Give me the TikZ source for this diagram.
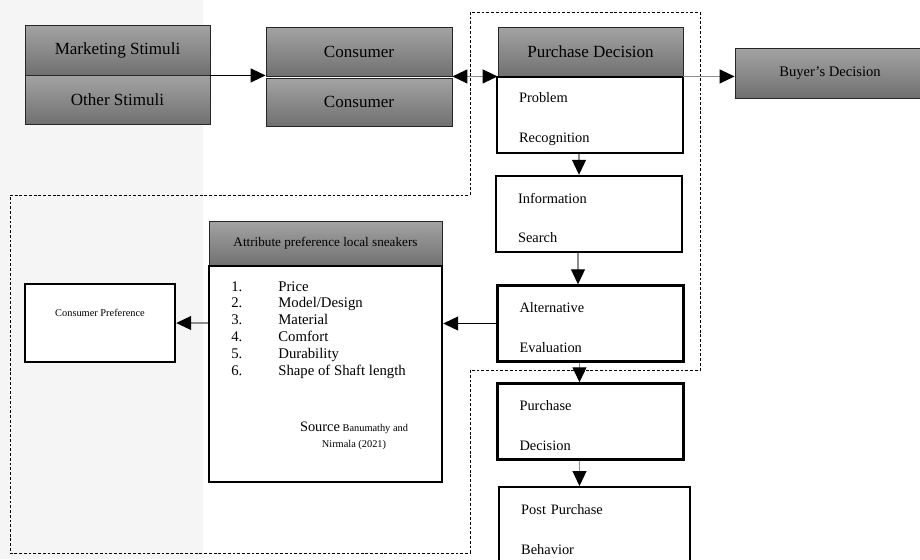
\documentclass[tikz,border=0pt]{standalone}
\usepackage{fontspec}
\setmainfont{Liberation Serif}
\usetikzlibrary{arrows.meta, calc}

\begin{document}
\begin{tikzpicture}[x=0.02cm, y=-0.02cm,
      head/.style={draw=black!85, line width=0.5pt, top color=black!36, bottom color=black!56,
        inner sep=0pt, font=\fontsize{9.7}{11}\selectfont},
      stage/.style={draw, line width=1.4pt, fill=white, minimum height=1.52cm, inner xsep=0.44cm,
        inner ysep=0pt, text width=2.84cm, align=left, font=\fontsize{8.2}{22.7}\selectfont,
        execute at begin node={\rule{0pt}{10.3pt}}},
      plain/.style={draw, line width=1.4pt, fill=white},
      gline/.style={draw=black!45, line width=0.6pt},
      >={Triangle[length=0.3cm,width=0.28cm,color=black]}]

      \useasboundingbox (0,0) rectangle (920,559);
      \fill[black!4] (0,0) rectangle (203,559);

      \draw[line width=0.5pt, dash pattern=on 1.6pt off 1.1pt]
        (10,195) -- (470,195) -- (470,12) -- (700,12) -- (700,370)
        -- (470,370) -- (470,553) -- (10,553) -- cycle;

      \node[head, minimum width=3.7cm, minimum height=1cm] (mkt) at (117.5,50) {Marketing Stimuli};
      \node[head, minimum width=3.7cm, minimum height=0.98cm] (oth) at (117.5,99.5) {Other Stimuli};
      \node[head, minimum width=3.72cm, minimum height=0.98cm] (con1) at (359,51.5) {Consumer};
      \node[head, minimum width=3.72cm, minimum height=0.96cm] (con2) at (359,102) {Consumer};
      \node[head, minimum width=3.7cm, minimum height=0.98cm] (pd) at (590.5,51.5) {Purchase Decision};
      \node[head, minimum width=3.8cm, minimum height=1cm, font=\fontsize{8.3}{10}\selectfont] (buy) at (830,73) {Buyer's Decision};

      \node[stage] (prob) at (590,115) {Problem\\Recognition};
      \node[stage] (info) at (589,214) {Information\\Search};
      \node[stage] (alt) at (590.5,323.5) {Alternative\\Evaluation};
      \node[stage] (pur) at (590.5,421.5) {Purchase\\Decision};
      \node[stage, text width=2.94cm, anchor=north west] (post) at (498,486) {Post Purchase\\Behavior};

      \node[head, minimum width=4.66cm, minimum height=0.9cm, font=\fontsize{7.5}{9}\selectfont] (atth) at (325.5,243.5) {Attribute preference local sneakers};
      \node[plain, minimum width=4.66cm, minimum height=4.32cm] (attb) at (325.5,374) {};
      \node[anchor=north west, inner sep=0pt, align=left, font=\fontsize{8.4}{9.6}\selectfont] (list) at (231,281)
        {\makebox[0.94cm][l]{1.}Price\\
         \makebox[0.94cm][l]{2.}Model/Design\\
         \makebox[0.94cm][l]{3.}Material\\
         \makebox[0.94cm][l]{4.}Comfort\\
         \makebox[0.94cm][l]{5.}Durability\\
         \makebox[0.94cm][l]{6.}Shape of Shaft length};
      \node[align=center, inner sep=0pt, font=\fontsize{5.9}{9}\selectfont] (src) at (354,436)
        {{\fontsize{8.2}{9}\selectfont Source} Banumathy and\\Nirmala (2021)};

      \node[plain, minimum width=3cm, minimum height=1.56cm] (cpref) at (100,323) {};
      \node[font=\fontsize{5.9}{7}\selectfont] (cpreft) at (100,313) {Consumer Preference};

      \draw[line width=0.6pt, ->] (mkt.south east) -- (mkt.south east -| con1.west);
      \draw[gline, <->] (con1.south east) -- (con1.south east -| pd.west);
      \draw[gline, ->] (pd.south east) -- (pd.south east -| buy.west);
      \foreach \a/\b in {prob/info, info/alt, alt/pur, pur/post}
        \draw[gline, ->] ([xshift=-2.2mm]\a.south) -- ([xshift=-2.2mm]\a.south |- \b.north);
      \draw[line width=0.6pt, ->] (alt.west) -- (alt.west -| attb.east);
      \draw[gline, ->] (attb.west |- cpref.east) -- (cpref.east);
    \end{tikzpicture}
\end{document}
